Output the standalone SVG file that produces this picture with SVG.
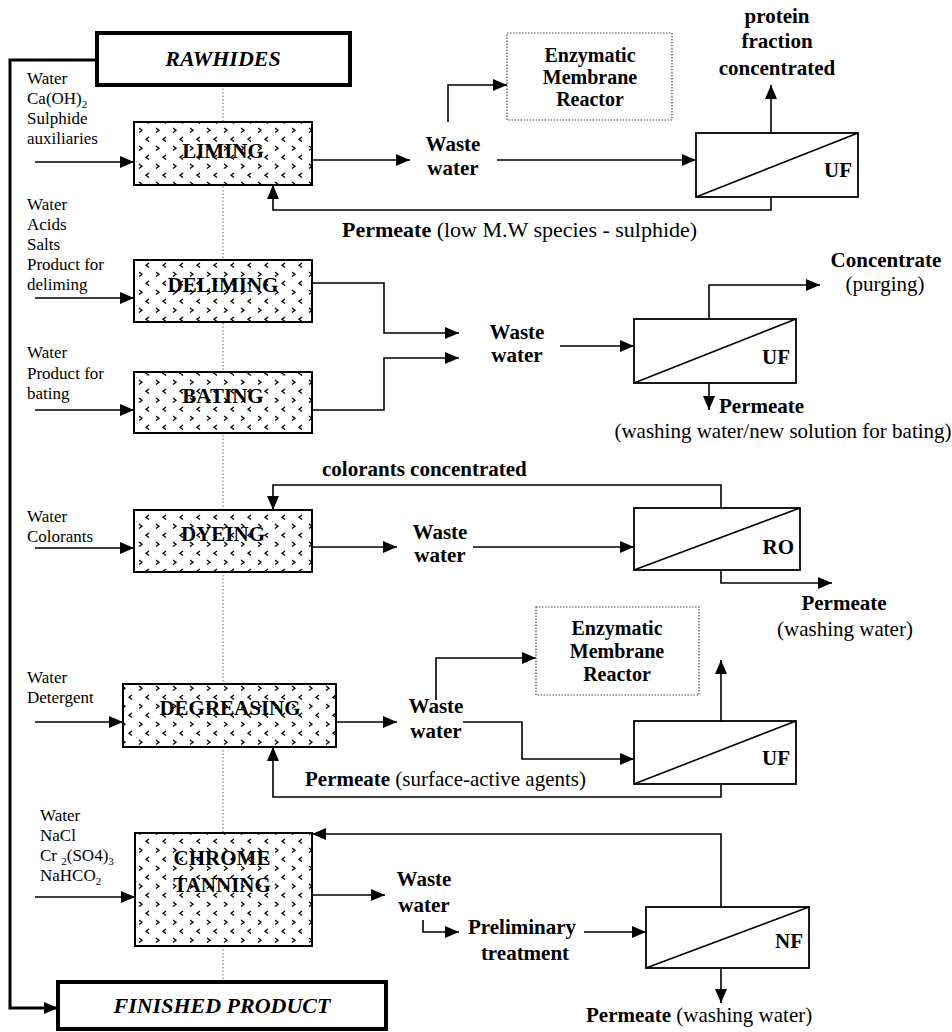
<svg xmlns="http://www.w3.org/2000/svg" width="952" height="1032" viewBox="0 0 952 1032">
<style>
text{font-family:"Liberation Serif","Times New Roman",serif;fill:#000}
.in{font-size:17px}
.lb{font-size:21px;font-weight:bold}
.rg{font-size:21px;font-weight:normal}
.pt{font-size:21px;font-weight:bold}
.big{font-size:22px;font-weight:bold;font-style:italic}
.c{text-anchor:middle}
.e{text-anchor:end}
.ln{fill:none;stroke:#000;stroke-width:1.6}
.thick{fill:none;stroke:#000;stroke-width:3}
.pbox{fill:url(#chev);stroke:#000;stroke-width:2}
.mbox{fill:#fff;stroke:#000;stroke-width:1.8}
.ebox{fill:none;stroke:#444;stroke-width:1.2;stroke-dasharray:1.5 1.5}
</style>
<defs>
<marker id="ah" viewBox="0 0 14 12" refX="14" refY="6" markerWidth="14" markerHeight="12" markerUnits="userSpaceOnUse" orient="auto"><path d="M0,0 L14,6 L0,12 z" fill="#000"/></marker>
<pattern id="chev" width="17" height="18" patternUnits="userSpaceOnUse"><rect width="17" height="18" fill="#fff"/><path d="M3,2 l3,2.2 l-3,2.2 M13,11 l-3,2.2 l3,2.2" fill="none" stroke="#000" stroke-width="1.3"/></pattern>
</defs>
<rect width="952" height="1032" fill="#fff"/>

<!-- center dotted line -->
<line x1="223" y1="85" x2="223" y2="982" stroke="#666" stroke-width="1" stroke-dasharray="1.5 2"/>

<g id="connectors">
  <path class="thick" d="M97,60 H10 V1008 H58" marker-end="url(#ah)"/>
  <!-- inputs -->
  <path class="ln" d="M35,162 H134" marker-end="url(#ah)"/>
  <path class="ln" d="M35,298 H134" marker-end="url(#ah)"/>
  <path class="ln" d="M35,410 H134" marker-end="url(#ah)"/>
  <path class="ln" d="M35,548 H134" marker-end="url(#ah)"/>
  <path class="ln" d="M35,722 H123" marker-end="url(#ah)"/>
  <path class="ln" d="M35,897 H135" marker-end="url(#ah)"/>
  <!-- row liming -->
  <path class="ln" d="M312,160 H410" marker-end="url(#ah)"/>
  <path class="ln" d="M497,160 H696" marker-end="url(#ah)"/>
  <path class="ln" d="M448,122 V85 H507" marker-end="url(#ah)"/>
  <path class="ln" d="M771,133 V85" marker-end="url(#ah)"/>
  <path class="ln" d="M771,197 V210 H273 V185" marker-end="url(#ah)"/>
  <!-- row deliming / bating -->
  <path class="ln" d="M312,283 H384 V333 H459" marker-end="url(#ah)"/>
  <path class="ln" d="M312,410 H384 V358 H459" marker-end="url(#ah)"/>
  <path class="ln" d="M560,346 H634" marker-end="url(#ah)"/>
  <path class="ln" d="M709,319 V285 H820" marker-end="url(#ah)"/>
  <path class="ln" d="M709,383 V410" marker-end="url(#ah)"/>
  <!-- row dyeing -->
  <path class="ln" d="M721,508 V485 H273 V510" marker-end="url(#ah)"/>
  <path class="ln" d="M312,547 H397" marker-end="url(#ah)"/>
  <path class="ln" d="M473,547 H634" marker-end="url(#ah)"/>
  <path class="ln" d="M721,570 V583 H832" marker-end="url(#ah)"/>
  <!-- row degreasing -->
  <path class="ln" d="M336,722 H397" marker-end="url(#ah)"/>
  <path class="ln" d="M436,700 V658 H536" marker-end="url(#ah)"/>
  <path class="ln" d="M463,722 H522 V759 H634" marker-end="url(#ah)"/>
  <path class="ln" d="M721,721 V660" marker-end="url(#ah)"/>
  <path class="ln" d="M721,784 V797 H273 V747" marker-end="url(#ah)"/>
  <!-- row chrome -->
  <path class="ln" d="M721,907 V834 H312" marker-end="url(#ah)"/>
  <path class="ln" d="M312,895 H385" marker-end="url(#ah)"/>
  <path class="ln" d="M423,920 V932 H459" marker-end="url(#ah)"/>
  <path class="ln" d="M584,932 H646" marker-end="url(#ah)"/>
  <path class="ln" d="M721,968 V1003" marker-end="url(#ah)"/>
</g>

<g id="rawhides">
  <rect x="97" y="33" width="253" height="52" fill="#fff" stroke="#000" stroke-width="4"/>
  <text class="big c" x="223" y="66">RAWHIDES</text>
</g>
<g id="finished">
  <rect x="58" y="982" width="328" height="47" fill="#fff" stroke="#000" stroke-width="4"/>
  <text class="big c" x="222" y="1013">FINISHED PRODUCT</text>
</g>

<g id="inputs-liming">
  <text class="in" x="27" y="84">Water</text>
  <text class="in" x="27" y="104">Ca(OH)<tspan font-size="11" dy="4">2</tspan></text>
  <text class="in" x="27" y="124">Sulphide</text>
  <text class="in" x="27" y="144">auxiliaries</text>
</g>
<g id="liming">
  <rect class="pbox" x="134" y="122" width="178" height="63"/>
  <text class="pt c" x="223" y="158">LIMING</text>
</g>

<g id="inputs-deliming">
  <text class="in" x="27" y="210">Water</text>
  <text class="in" x="27" y="230">Acids</text>
  <text class="in" x="27" y="250">Salts</text>
  <text class="in" x="27" y="270">Product for</text>
  <text class="in" x="27" y="290">deliming</text>
</g>
<g id="deliming">
  <rect class="pbox" x="134" y="260" width="178" height="62"/>
  <text class="pt c" x="223" y="292">DELIMING</text>
</g>

<g id="inputs-bating">
  <text class="in" x="27" y="358">Water</text>
  <text class="in" x="27" y="379">Product for</text>
  <text class="in" x="27" y="399">bating</text>
</g>
<g id="bating">
  <rect class="pbox" x="134" y="372" width="178" height="61"/>
  <text class="pt c" x="223" y="403">BATING</text>
</g>

<g id="inputs-dyeing">
  <text class="in" x="27" y="522">Water</text>
  <text class="in" x="27" y="542">Colorants</text>
</g>
<g id="dyeing">
  <rect class="pbox" x="134" y="510" width="178" height="62"/>
  <text class="pt c" x="223" y="541">DYEING</text>
</g>

<g id="inputs-degreasing">
  <text class="in" x="27" y="683">Water</text>
  <text class="in" x="27" y="703">Detergent</text>
</g>
<g id="degreasing">
  <rect class="pbox" x="123" y="684" width="213" height="63"/>
  <text class="pt c" x="230" y="715">DEGREASING</text>
</g>

<g id="inputs-chrome">
  <text class="in" x="40" y="821">Water</text>
  <text class="in" x="40" y="841">NaCl</text>
  <text class="in" x="40" y="861">Cr <tspan font-size="11" dy="4">2</tspan><tspan dy="-4">(SO4)</tspan><tspan font-size="11" dy="4">3</tspan></text>
  <text class="in" x="40" y="881">NaHCO<tspan font-size="11" dy="4">2</tspan></text>
</g>
<g id="chrome">
  <rect class="pbox" x="135" y="833" width="177" height="113"/>
  <text class="pt c" x="222" y="865">CHROME</text>
  <text class="pt c" x="222" y="892">TANNING</text>
</g>

<!-- row 1 -->
<g id="ww1"><text class="lb c" x="453" y="151">Waste</text><text class="lb c" x="453" y="175">water</text></g>
<g id="emr1">
  <rect class="ebox" x="507" y="33" width="165" height="87"/>
  <text class="lb c" x="590" y="62" style="font-size:20px">Enzymatic</text>
  <text class="lb c" x="590" y="84" style="font-size:20px">Membrane</text>
  <text class="lb c" x="590" y="106" style="font-size:20px">Reactor</text>
</g>
<g id="uf1">
  <rect class="mbox" x="696" y="133" width="162" height="64"/>
  <path class="ln" d="M696,197 L858,133"/>
  <text class="lb e" x="852" y="177">UF</text>
</g>
<g id="protein">
  <text class="lb c" x="777" y="23">protein</text>
  <text class="lb c" x="777" y="48">fraction</text>
  <text class="lb c" x="777" y="75">concentrated</text>
</g>
<text class="rg" x="342" y="237" style="font-size:22px"><tspan font-weight="bold">Permeate</tspan> (low M.W species - sulphide)</text>

<!-- row 2 -->
<g id="ww2"><text class="lb c" x="517" y="339">Waste</text><text class="lb c" x="517" y="362">water</text></g>
<g id="uf2">
  <rect class="mbox" x="634" y="319" width="162" height="64"/>
  <path class="ln" d="M634,383 L796,319"/>
  <text class="lb e" x="790" y="364">UF</text>
</g>
<g id="concentrate">
  <text class="lb c" x="886" y="267">Concentrate</text>
  <text class="rg c" x="885" y="291">(purging)</text>
</g>
<g id="permeate2">
  <text class="lb" x="719" y="413">Permeate</text>
  <text class="rg c" x="783" y="438">(washing water/new solution for bating)</text>
</g>

<!-- row 3 -->
<text class="lb" x="322" y="476">colorants concentrated</text>
<g id="ww3"><text class="lb c" x="440" y="539">Waste</text><text class="lb c" x="440" y="562">water</text></g>
<g id="ro">
  <rect class="mbox" x="634" y="508" width="166" height="62"/>
  <path class="ln" d="M634,570 L800,508"/>
  <text class="lb e" x="794" y="554">RO</text>
</g>
<g id="permeate3">
  <text class="lb c" x="844" y="610">Permeate</text>
  <text class="rg c" x="845" y="636">(washing water)</text>
</g>

<!-- row 4 -->
<g id="ww4"><text class="lb c" x="436" y="713">Waste</text><text class="lb c" x="436" y="738">water</text></g>
<g id="emr2">
  <rect class="ebox" x="536" y="607" width="163" height="88"/>
  <text class="lb c" x="617" y="635" style="font-size:20px">Enzymatic</text>
  <text class="lb c" x="617" y="658" style="font-size:20px">Membrane</text>
  <text class="lb c" x="617" y="681" style="font-size:20px">Reactor</text>
</g>
<g id="uf3">
  <rect class="mbox" x="634" y="721" width="162" height="63"/>
  <path class="ln" d="M634,784 L796,721"/>
  <text class="lb e" x="790" y="765">UF</text>
</g>
<text class="rg" x="305" y="786"><tspan font-weight="bold">Permeate</tspan> (surface-active agents)</text>

<!-- row 5 -->
<g id="ww5"><text class="lb c" x="424" y="886">Waste</text><text class="lb c" x="424" y="912">water</text></g>
<g id="prelim">
  <text class="lb c" x="522" y="934">Preliminary</text>
  <text class="lb c" x="525" y="960">treatment</text>
</g>
<g id="nf">
  <rect class="mbox" x="646" y="907" width="163" height="61"/>
  <path class="ln" d="M646,968 L809,907"/>
  <text class="lb e" x="803" y="948">NF</text>
</g>
<text class="rg" x="586" y="1022"><tspan font-weight="bold">Permeate</tspan> (washing water)</text>
</svg>
